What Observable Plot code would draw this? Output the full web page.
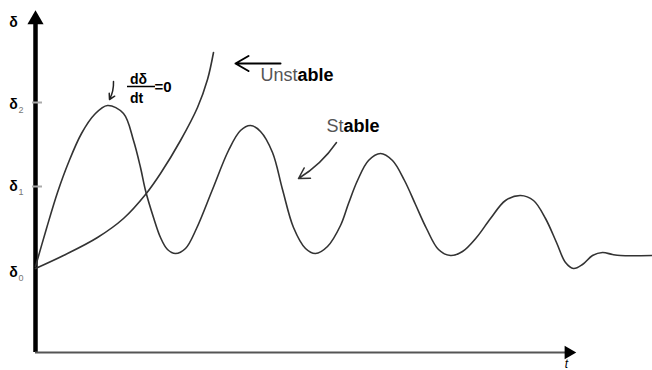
<!DOCTYPE html>
<html>
<head>
<meta charset="utf-8">
<script src="https://cdn.jsdelivr.net/npm/d3@7"></script>
<script src="https://cdn.jsdelivr.net/npm/@observablehq/plot@0.6"></script>
<style>
  html, body { margin: 0; padding: 0; background: #fff; }
  svg { display: block; }
</style>
</head>
<body>
<div id="chart"></div>
<script>
// Stable swing curve (time, rotor angle)
const stableT = [0,11,22,33,46,59,72,88,98,105,110,118,125,132,140,150,161,177,193,205,215,225,237,247,258,270,280,292,305,313,322,333,345,357,369,380,391,403,415,427,441,455,470,485,498,510,521,530,538,547,557,567,577,585,617];
const stableD = [86,124,160,190,219,238,247,239,212,185,162,135,115,103,99,104,124,163,202,222,227,221,200,163,125,104,99,106,127,149,172,192,199,192,172,148,124,103,97,101,115,134,152,157,152,134,110,90,84,88,97,100,98,97,97];
// Unstable curve
const unstableT = [0,28,62,88,110,125,145,162,172,178];
const unstableD = [84,97,115,134,158,179,212,245,273,300];
// Level labels on the angle axis
const levelNames = ["δ", "δ", "δ", "δ"];
const levelSubs = ["", "2", "1", "0"];
const levelValues = [330, 248, 166, 80];
const tickValues = [250, 166];

const stable = stableT.map((t, i) => ({t, d: stableD[i]}));
const unstable = unstableT.map((t, i) => ({t, d: unstableD[i]}));
const levels = levelNames.map((n, i) => ({n, s: levelSubs[i], v: levelValues[i]}));

const font = "Liberation Sans, Arial, sans-serif";
const seg = {x1: d => d[0], y1: d => d[1], x2: d => d[2], y2: d => d[3]};

const chart = Plot.plot({
  width: 652,
  height: 370,
  margin: 0,
  x: {domain: [-35, 617], axis: null},
  y: {domain: [-18, 352], axis: null},
  style: {background: "#fff", fontFamily: font},
  marks: [
    // axes
    Plot.ruleX([0], {y1: 0, y2: 328, stroke: "#000", strokeWidth: 4.5}),
    Plot.dot([[0, 333]], {symbol: "triangle", r: 6, fill: "#000", stroke: "none"}),
    Plot.ruleY([0], {x1: 0, x2: 532, stroke: "#555", strokeWidth: 2}),
    Plot.dot([[533, 0]], {symbol: "triangle", r: 5, rotate: 90, fill: "#000", stroke: "none"}),
    Plot.ruleY(tickValues, {x1: -3, x2: 7, stroke: "#aaa", strokeWidth: 2}),
    // curves
    Plot.line(unstable, {x: "t", y: "d", curve: "catmull-rom", stroke: "#333", strokeWidth: 1.6}),
    Plot.line(stable, {x: "t", y: "d", curve: "catmull-rom", stroke: "#333", strokeWidth: 1.6}),
    // level labels
    Plot.text(levels, {x: -22, y: "v", text: "n", fontSize: 14, fontWeight: "bold", fill: "#000"}),
    Plot.text(levels, {x: -14.5, y: d => d.v - 6, text: "s", fontSize: 9, fill: "#777"}),
    Plot.text(["t"], {x: 531, y: -12, text: d => d, fontSize: 12, fontStyle: "italic", fill: "#000"}),
    // annotations
    Plot.arrow([[245, 289, 200, 289]], {...seg, stroke: "#000", strokeWidth: 2, headLength: 12}),
    Plot.text(["Unst"], {x: 225, y: 277, text: d => d, textAnchor: "start", fontSize: 18, fill: "#555"}),
    Plot.text(["able"], {x: 262, y: 277, text: d => d, textAnchor: "start", fontSize: 18, fontWeight: "bold", fill: "#000"}),
    Plot.arrow([[301, 210, 263, 174]], {...seg, stroke: "#333", strokeWidth: 1.5, headLength: 12, bend: 12}),
    Plot.text(["St"], {x: 291, y: 226, text: d => d, textAnchor: "start", fontSize: 18, fill: "#555"}),
    Plot.text(["able"], {x: 308, y: 226, text: d => d, textAnchor: "start", fontSize: 18, fontWeight: "bold", fill: "#000"}),
    Plot.arrow([[78, 271, 74, 253]], {...seg, stroke: "#222", strokeWidth: 1.5, headLength: 8, bend: 15}),
    Plot.text(["dδ"], {x: 103, y: 273, text: d => d, fontSize: 14, fontWeight: "bold", fill: "#000"}),
    Plot.ruleY([266], {x1: 92, x2: 120, stroke: "#000", strokeWidth: 1.5}),
    Plot.text(["dt"], {x: 101, y: 254, text: d => d, fontSize: 14, fontWeight: "bold", fill: "#000"}),
    Plot.text(["=0"], {x: 119, y: 265, text: d => d, textAnchor: "start", fontSize: 15, fontWeight: "bold", fill: "#000"})
  ]
});
document.getElementById("chart").appendChild(chart);
</script>
</body>
</html>
